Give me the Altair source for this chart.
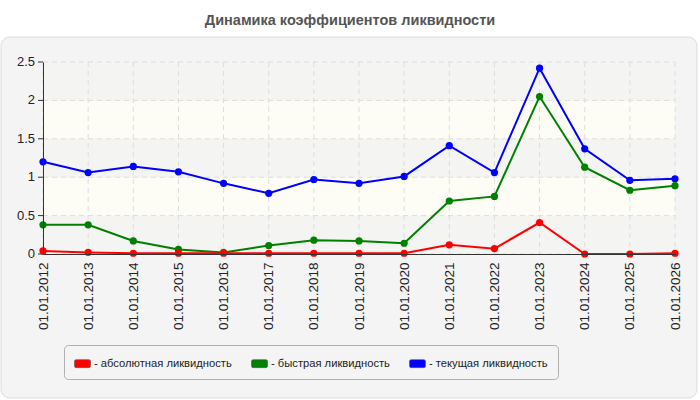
import altair as alt
import pandas as pd

dates = ["01.01.2012", "01.01.2013", "01.01.2014", "01.01.2015", "01.01.2016",
         "01.01.2017", "01.01.2018", "01.01.2019", "01.01.2020", "01.01.2021",
         "01.01.2022", "01.01.2023", "01.01.2024", "01.01.2025", "01.01.2026"]
absolute = [0.04, 0.02, 0.01, 0.01, 0.01, 0.01, 0.01, 0.01, 0.01, 0.12, 0.07, 0.41, 0.0, 0.0, 0.01]
quick = [0.38, 0.38, 0.17, 0.06, 0.02, 0.11, 0.18, 0.17, 0.14, 0.69, 0.75, 2.05, 1.13, 0.83, 0.89]
current = [1.20, 1.06, 1.14, 1.07, 0.92, 0.79, 0.97, 0.92, 1.01, 1.41, 1.06, 2.42, 1.37, 0.96, 0.98]

series_names = ["- абсолютная ликвидность", "- быстрая ликвидность", "- текущая ликвидность"]
series_colors = ["#ff0000", "#008000", "#0000ff"]
title_text = "Динамика коэффициентов ликвидности"

band_starts = [0.0, 0.5, 1.0, 1.5, 2.0]
band_colors = ["#f4f4f2", "#fdfdf6", "#f4f4f2", "#fdfdf6", "#f4f4f2"]
y_ticks = [0.0, 0.5, 1.0, 1.5, 2.0, 2.5]
y_tick_labels = ["0", "0.5", "1", "1.5", "2", "2.5"]

rows = []
# draw order: blue first, red on top
for name, vals in [(series_names[2], current), (series_names[1], quick), (series_names[0], absolute)]:
    for d, v in zip(dates, vals):
        rows.append({"date": d, "value": v, "series": name})
df = pd.DataFrame(rows)

bands = pd.DataFrame({"y0": band_starts,
                      "y1": [b + 0.5 for b in band_starts],
                      "c": band_colors})
yt = pd.DataFrame({"v": y_ticks, "lab": y_tick_labels})
xd = pd.DataFrame({"date": dates})

W, H = 632, 192

panel = alt.Chart(pd.DataFrame({"a": [0]})).mark_rect(
    fill="#f4f4f4", stroke="#dcdcdc", strokeWidth=1, cornerRadius=9
).encode(x=alt.value(-42), x2=alt.value(654), y=alt.value(-25), y2=alt.value(336))

title = alt.Chart(pd.DataFrame({"t": [title_text]})).mark_text(
    font="Liberation Sans", fontSize=14.5, fontWeight="bold", color="#555555",
    align="center", baseline="middle"
).encode(text="t:N", x=alt.value(307), y=alt.value(-41))

yscale = alt.Scale(domain=[0, 2.5], nice=False, zero=True)
y_axis = alt.Axis(title=None, labels=False, ticks=False, grid=False,
                  domainColor="#333333", zindex=1)

band_layer = alt.Chart(bands).mark_rect().encode(
    x=alt.value(0), x2=alt.value(W),
    y=alt.Y("y0:Q", scale=yscale, axis=y_axis), y2="y1:Q",
    color=alt.Color("c:N", scale=None, legend=None)
)

ygrid = alt.Chart(yt).mark_rule(color="#dddddd", strokeDash=[5, 4], strokeWidth=1).encode(
    y=alt.Y("v:Q"), x=alt.value(0), x2=alt.value(W)
)
yticks_layer = alt.Chart(yt).mark_rule(color="#333333", strokeWidth=1).encode(
    y=alt.Y("v:Q"), x=alt.value(-5), x2=alt.value(0)
)
ylabels = alt.Chart(yt).mark_text(
    align="right", baseline="middle", fontSize=13, font="Liberation Sans", color="#222222"
).encode(y=alt.Y("v:Q"), x=alt.value(-8), text="lab:N")

xenc = alt.X("date:N", sort=dates, scale=alt.Scale(type="point", padding=0),
             axis=alt.Axis(title=None, labelAngle=270, ticks=False, labelPadding=8,
                           grid=False, domainColor="#333333", labelFontSize=13.5,
                           labelColor="#222222", labelFont="Liberation Sans",
                           labelOverlap=False, zindex=1))

xgrid = alt.Chart(xd).mark_rule(color="#dddddd", strokeDash=[5, 4], strokeWidth=1).encode(
    x=alt.X("date:N", sort=dates), y=alt.value(0), y2=alt.value(H)
)

yenc = alt.Y("value:Q", scale=yscale, axis=y_axis)
cscale = alt.Scale(domain=series_names, range=series_colors)

lines = alt.Chart(df).mark_line(strokeWidth=2).encode(
    x=xenc, y=yenc,
    color=alt.Color("series:N", scale=cscale, legend=None),
    detail="series:N",
)

sym = ("M-0.8,-0.5 H0.8 Q1,-0.5 1,-0.3 V0.3 Q1,0.5 0.8,0.5 "
       "H-0.8 Q-1,0.5 -1,0.3 V-0.3 Q-1,-0.5 -0.8,-0.5 Z")

points = alt.Chart(df).mark_circle(size=52, opacity=1).encode(
    x=alt.X("date:N", sort=dates),
    y=alt.Y("value:Q"),
    color=alt.Color("series:N", scale=cscale, sort=series_names,
                    legend=alt.Legend(
                        title=None, orient="none", legendX=21, legendY=283,
                        direction="horizontal", columns=3, columnPadding=18,
                        symbolType=sym, symbolSize=256, symbolStrokeWidth=0.6,
                        symbolStrokeColor="#555555",
                        labelFontSize=11.2, labelFont="Liberation Sans",
                        labelColor="#222222", labelOffset=3,
                        strokeColor="#b0b0b0", cornerRadius=4, padding=10)),
)

chart = alt.layer(panel, title, band_layer, ygrid, xgrid, yticks_layer, ylabels,
                  lines, points).properties(
    width=W, height=H,
    background="white",
    autosize=alt.AutoSizeParams(type="none"),
    padding={"left": 43, "top": 62, "right": 25, "bottom": 146}
).configure_view(stroke="#dddddd").resolve_scale(color="independent")

chart.save("out.html", embed_options={"renderer": "svg", "actions": False})
